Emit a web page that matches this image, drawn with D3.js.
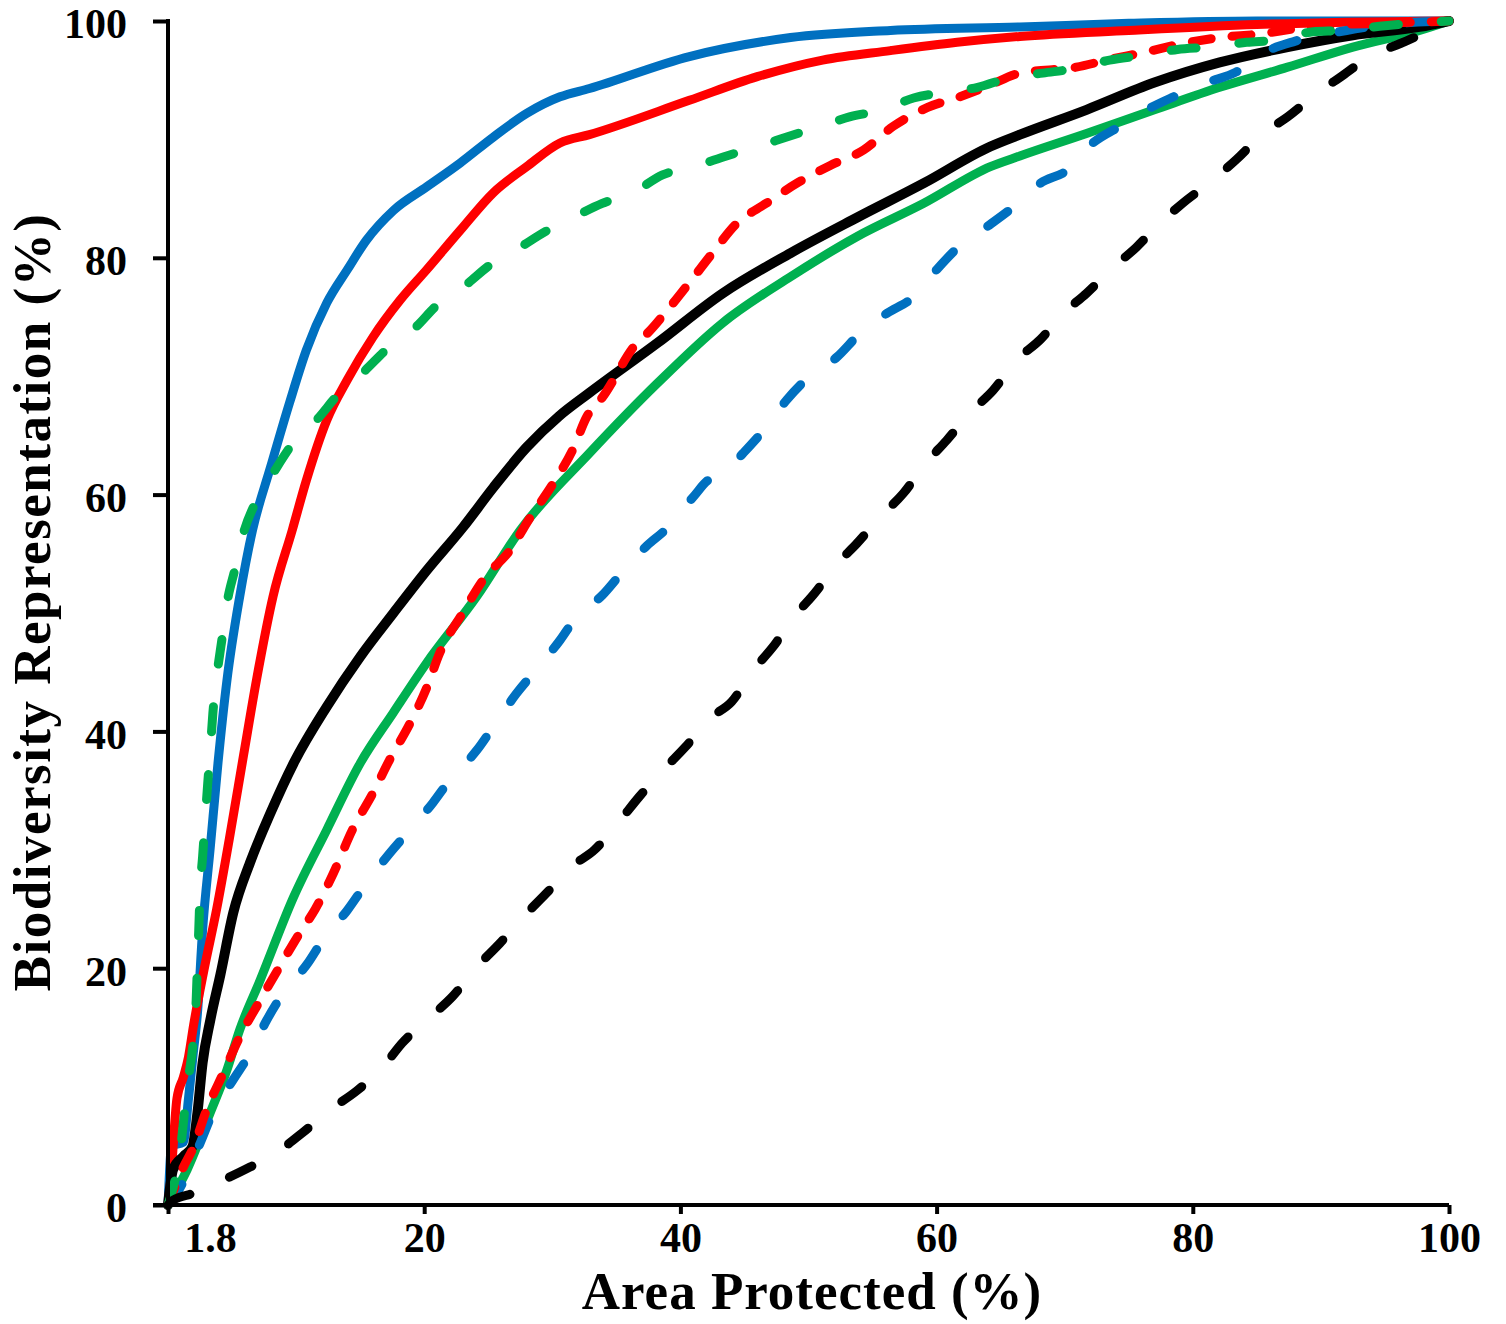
<!DOCTYPE html>
<html>
<head>
<meta charset="utf-8">
<script src="https://cdn.jsdelivr.net/npm/d3@7"></script>
<style>
  body { margin: 0; background: #fff; }
  text { font-family: "Liberation Serif", "Times New Roman", serif; font-weight: bold; fill: #000; }
</style>
</head>
<body>
<script>
// Axis ticks
const xTicks = [0, 20, 40, 60, 80, 100];
const xTickLabels = ["1.8", "20", "40", "60", "80", "100"];
const yTicks = [0, 20, 40, 60, 80, 100];

// Series values: [area protected, representation]
const blueSolid = [[0,0],[0.3,5],[1.2,5.3],[1.6,9],[2,13.1],[2.3,16.2],[2.7,23.2],[3.3,30.2],[3.9,37.3],[4.6,44.3],[5.6,51.4],[6.6,57],[8,62.3],[9.5,67.8],[10.8,72.2],[12.4,76.2],[14,79],[15.5,81.5],[17.6,84],[20.2,86],[22.8,88],[25.4,90.2],[28,92.2],[30.6,93.6],[32.9,94.3],[40.7,97],[48.6,98.6],[56.4,99.2],[66.5,99.5],[75,99.8],[85,100],[100,100]];
const redSolid = [[0,0],[0.2,2],[0.7,9],[1.2,10.8],[1.6,12.5],[2,15.2],[2.8,19.8],[3.8,25],[4.8,31],[5.9,38],[6.9,44.3],[8.2,51.4],[9.7,57],[10.8,61.2],[12.4,66.3],[14,69.7],[16,73.3],[18.1,76.4],[20.2,79],[22.8,82.3],[25.4,85.5],[28,87.7],[30.6,89.7],[32.9,90.4],[40.7,93.3],[46,95.3],[51.1,96.7],[56.4,97.5],[61.6,98.2],[66.5,98.7],[75,99.2],[85,99.7],[100,100]];
const greenSolid = [[0,0],[1.5,3],[3.3,7.8],[4.6,11.4],[5.6,14.8],[7.2,19],[9.8,26],[12.4,31.7],[15,37.3],[17.6,41.6],[20.2,45.8],[24.1,51.4],[27.5,57],[32.9,63.5],[38.2,69.4],[43.3,74.5],[48.6,78.4],[53.8,81.8],[59,84.6],[64.2,87.7],[66.5,88.6],[71.7,90.5],[77,92.5],[82.1,94.4],[87.4,96.1],[92.5,97.8],[97.7,99.2],[100,100]];
const blackSolid = [[0,0],[0.4,3],[1.2,4.1],[1.9,4.9],[2.3,7.8],[2.7,12],[3.3,15.6],[4.1,19.5],[5.1,24.7],[6.4,28.9],[8,33.1],[9.8,37.3],[12.4,42.1],[15,46.3],[17.6,50],[20.2,53.6],[23,57.2],[25.4,60.6],[28,64],[30.5,66.6],[32.9,68.6],[38.2,72.8],[43.3,77],[48.6,80.4],[53.8,83.4],[59,86.3],[64.2,89.4],[66.5,90.4],[71.7,92.5],[77,94.8],[82.1,96.5],[87.4,97.8],[92.5,98.8],[97.7,99.5],[100,100]];
const blueDashed = [[0,0],[0.7,1],[2.5,5.2],[3.5,7.8],[5.1,10.6],[6.4,12.8],[7.7,15.6],[9,17.9],[10.9,20.4],[12.1,22.4],[14,24.9],[15.5,27.2],[17.3,29.7],[18.9,31.7],[20.7,34],[22,35.9],[24.1,38.4],[25.4,40.4],[27.2,43.2],[28.5,44.9],[30.6,47.7],[31.9,49.7],[33.9,51.5],[35.5,53.5],[37.4,55.7],[38.8,57],[41,59.8],[42.3,61.3],[43.1,61.5],[44.9,63.5],[46.7,65.7],[48.3,68],[50.1,70],[52.2,71.6],[54,73.6],[56.1,75.3],[58.2,76.7],[60,79],[61.8,81],[63.9,82.6],[66,84.3],[68.1,86.3],[70.2,87.4],[72.2,89.7],[74.3,91.1],[76.4,92.5],[78.5,93.6],[81.1,94.8],[83.4,95.7],[85.5,97.3],[88,98.3],[92,99.2],[96,99.8],[100,100]];
const redDashed = [[0,0],[1.2,3.2],[2,4.9],[3,8],[4.3,11.1],[5.6,14.2],[7.2,17.3],[8.7,20.1],[10.3,23],[11.5,25],[12.9,28],[14.4,31.7],[16,34.8],[17.3,37.6],[18.9,40.7],[20.2,43.7],[21.2,46.6],[23,50],[24.6,52.8],[26.9,55.6],[28,57.6],[30.1,61],[31.6,63.8],[32.7,66.6],[33.9,68.2],[36.6,72.8],[37.4,73.6],[39,75.6],[40.7,77.9],[42.5,80.4],[44.4,82.9],[46.7,84.6],[49.1,86.3],[51.7,87.8],[54.3,89.1],[56.6,91.1],[59.3,92.7],[61.8,93.6],[64,94.5],[66.5,95.6],[70.9,96.1],[73.3,96.7],[76.4,97.4],[79.2,98.1],[82.1,98.6],[85.2,98.9],[88.4,99.4],[91.5,99.7],[94.6,99.8],[100,100]];
const greenDashed = [[0,0],[1,5],[1.5,10],[2,14.2],[2.2,17.3],[2.3,20.4],[2.4,23.2],[2.5,26.4],[2.7,29.4],[2.9,32.5],[3.1,35.6],[3.3,38.4],[3.5,41.5],[3.8,44.6],[4.2,47.7],[4.6,50.8],[5.2,53.6],[5.8,56.4],[6.9,59.5],[8.2,61.8],[9.8,64.4],[11.6,66.3],[13.4,68.6],[15.2,70.3],[17.3,72.5],[19.1,73.9],[21.2,76.2],[23,77.5],[25.4,79.6],[27.2,80.7],[29.6,82.3],[31.6,83.4],[33.9,84.6],[36.3,85.5],[38.6,87],[41,87.7],[43.6,88.6],[46,89.4],[48.3,90.2],[50.9,91.1],[53.2,91.9],[55.8,92.5],[58.2,93.5],[60.8,94],[63.2,94.4],[65.7,95.2],[68.3,95.6],[70.9,96],[73.5,96.7],[76.1,97.1],[78.8,97.6],[81.3,97.8],[84.2,98.2],[86.6,98.4],[89.4,99.1],[91.5,99.2],[95,99.6],[100,100]];
const blackDashed = [[0,0],[0.4,0.4],[2,1],[4.3,2.1],[6.4,3.2],[8.7,4.6],[10.5,6.1],[12.6,8],[14.8,9.7],[16.8,11.7],[18.3,13.7],[20.5,15.9],[22.2,17.6],[24.1,20.1],[25.9,22.1],[27.7,24.3],[29.6,26.4],[31.4,28.5],[33.3,30],[35.3,32.5],[36.8,34.5],[38.8,36.9],[40.4,38.7],[42.3,41.1],[44,42.5],[45.7,45.2],[47.2,47.1],[48.9,49.7],[50.5,51.7],[52.2,54.1],[53.8,55.9],[55.6,58.1],[57.4,60.1],[59.2,62.7],[60.8,64.6],[62.6,66.9],[64.4,68.8],[66.3,71.4],[68.1,73.1],[69.9,75.3],[71.7,77],[73.8,79.2],[75.6,80.9],[77.4,82.9],[79.2,84.6],[81.6,86.6],[83.4,88.3],[85.5,90.5],[87.4,91.9],[89.7,93.9],[91.7,95.4],[93.8,97],[96.2,98.1],[98.5,99.2],[100,100]];

const series = [
  { data: blueSolid,   color: '#0070C0', dash: null },
  { data: redSolid,    color: '#FF0000', dash: null },
  { data: greenSolid,  color: '#00B050', dash: null },
  { data: blackSolid,  color: '#000000', dash: null, width: 10 },
  { data: blueDashed,  color: '#0070C0', dash: '25,43' },
  { data: redDashed,   color: '#FF0000', dash: '19,21' },
  { data: greenDashed, color: '#00B050', dash: '25,43' },
  { data: blackDashed, color: '#000000', dash: '25,43' }
];

const width = 1506;
const height = 1324;
const margin = { top: 21, right: 57, bottom: 119, left: 168 };

const svg = d3.select('body').append('svg')
  .attr('width', width)
  .attr('height', height);

const x = d3.scaleLinear().domain([0, 100]).range([margin.left, width - margin.right]);
const y = d3.scaleLinear().domain([0, 100]).range([height - margin.bottom, margin.top]);

// Curves
const line = d3.line()
  .x(d => x(d[0]))
  .y(d => y(d[1]))
  .curve(d3.curveMonotoneX);

svg.selectAll('path.series')
  .data(series)
  .enter()
  .append('path')
  .attr('class', 'series')
  .attr('d', d => line(d.data))
  .attr('fill', 'none')
  .attr('stroke', d => d.color)
  .attr('stroke-width', d => d.width || 9)
  .attr('stroke-linecap', 'round')
  .attr('stroke-linejoin', 'round')
  .attr('stroke-dasharray', d => d.dash);

// X axis
const xAxis = svg.append('g')
  .attr('transform', `translate(0,${y(0)})`)
  .call(d3.axisBottom(x).tickValues(xTicks).tickSize(9).tickPadding(8)
    .tickFormat((d, i) => xTickLabels[i]));

// Y axis
const yAxis = svg.append('g')
  .attr('transform', `translate(${x(0)},0)`)
  .call(d3.axisLeft(y).tickValues(yTicks).tickSize(15).tickPadding(26));

[xAxis, yAxis].forEach(g => {
  g.select('.domain').remove();
  g.selectAll('.tick line').attr('stroke', '#000').attr('stroke-width', 4);
  g.selectAll('.tick text').style('font-size', '42px');
});
xAxis.selectAll('.tick text').attr('dy', '0.71em')
  .filter((d, i) => i === 0).attr('dx', 42);
yAxis.selectAll('.tick text').attr('dy', '0.4em');

// Axis lines
svg.append('line')
  .attr('x1', x(0) - 15).attr('x2', x(100))
  .attr('y1', y(0)).attr('y2', y(0))
  .attr('stroke', '#000').attr('stroke-width', 4);
svg.append('line')
  .attr('x1', x(0)).attr('x2', x(0))
  .attr('y1', y(100) - 2).attr('y2', y(0) + 2)
  .attr('stroke', '#000').attr('stroke-width', 4);

// Axis titles
svg.append('text')
  .attr('x', 812)
  .attr('y', 1309)
  .attr('text-anchor', 'middle')
  .style('font-size', '53px')
  .style('letter-spacing', '1px')
  .text('Area Protected (%)');

svg.append('text')
  .attr('transform', 'translate(50,602) rotate(-90)')
  .attr('text-anchor', 'middle')
  .style('font-size', '53px')
  .style('letter-spacing', '1.5px')
  .text('Biodiversity Representation (%)');
</script>
</body>
</html>
